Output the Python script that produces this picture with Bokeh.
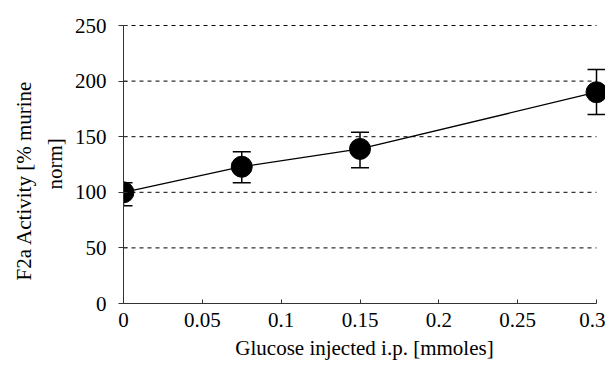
import math
from bokeh.plotting import figure
from bokeh.models import Range1d, FixedTicker, Whisker, ColumnDataSource, TeeHead, Title
from bokeh.embed import file_html
from bokeh.resources import INLINE

# data
glucose = [0.0, 0.075, 0.15, 0.3]
activity = [100, 123, 139, 190]
err_upper = [108.5, 136.5, 154, 210.5]
err_lower = [88, 108.5, 122, 170]
x_ticks = [0, 0.05, 0.1, 0.15, 0.2, 0.25, 0.3]
x_tick_labels = ["0", "0.05", "0.1", "0.15", "0.2", "0.25", "0.3"]
y_ticks = [0, 50, 100, 150, 200, 250]
grid_levels = [50, 100, 150, 200, 250]
x_title = "Glucose injected i.p. [mmoles]"
y_title_lines = ["F2a Activity [% murine", "norm]"]

FONT = "Liberation Serif"
FS = "21px"
AXC = "#333333"

p = figure(width=605, height=366, output_backend="svg", toolbar_location=None,
           x_range=Range1d(0, 0.3057), y_range=Range1d(0, 259),
           min_border_left=123, min_border_right=0, min_border_top=15, min_border_bottom=63)
p.outline_line_color = None
p.xgrid.visible = False
p.ygrid.visible = False
p.background_fill_color = "white"
p.border_fill_color = "white"

# grid lines as dashed segments limited to the data extent
p.segment(x0=[x_ticks[0]] * len(grid_levels), x1=[x_ticks[-1]] * len(grid_levels),
          y0=grid_levels, y1=grid_levels, line_color="black", line_width=1, line_dash="4 4")

# axes
xa = p.xaxis[0]
xa.ticker = FixedTicker(ticks=x_ticks)
xa.major_label_overrides = {t: l for t, l in zip(x_ticks, x_tick_labels)}
xa.bounds = (x_ticks[0], x_ticks[-1])
xa.minor_tick_line_color = None
xa.major_tick_in = 4
xa.major_tick_out = 0
xa.axis_line_color = AXC
xa.major_tick_line_color = AXC
xa.major_label_text_font = FONT
xa.major_label_text_font_size = FS
xa.major_label_text_color = "black"
xa.major_label_standoff = 9
xa.axis_label = x_title
xa.axis_label_text_font = FONT
xa.axis_label_text_font_size = FS
xa.axis_label_text_font_style = "normal"
xa.axis_label_text_color = "black"
xa.axis_label_standoff = 6

ya = p.yaxis[0]
ya.ticker = FixedTicker(ticks=y_ticks)
ya.bounds = (y_ticks[0], y_ticks[-1])
ya.minor_tick_line_color = None
ya.major_tick_in = 4
ya.major_tick_out = 5
ya.axis_line_color = AXC
ya.major_tick_line_color = AXC
ya.major_label_text_font = FONT
ya.major_label_text_font_size = FS
ya.major_label_text_color = "black"
ya.major_label_standoff = 12

# y title: two rotated lines in the left panel
t2 = Title(text=y_title_lines[1], align="left", offset=114, standoff=10,
           text_font=FONT, text_font_size=FS, text_font_style="normal", text_color="black")
t1 = Title(text=y_title_lines[0], align="left", offset=23, standoff=0,
           text_font=FONT, text_font_size=FS, text_font_style="normal", text_color="black")
p.add_layout(t2, "left")
p.add_layout(t1, "left")

src = ColumnDataSource(dict(x=glucose, y=activity, up=err_upper, lo=err_lower))
p.line("x", "y", source=src, line_color="black", line_width=1.3)
w = Whisker(base="x", upper="up", lower="lo", source=src, line_color="black", line_width=1.5,
            upper_head=TeeHead(size=18, line_color="black", line_width=1.5),
            lower_head=TeeHead(size=18, line_color="black", line_width=1.5))
p.add_layout(w)
p.scatter("x", "y", source=src, size=21, fill_color="black", line_color="black")

open("out.html", "w").write(file_html(p, INLINE))
